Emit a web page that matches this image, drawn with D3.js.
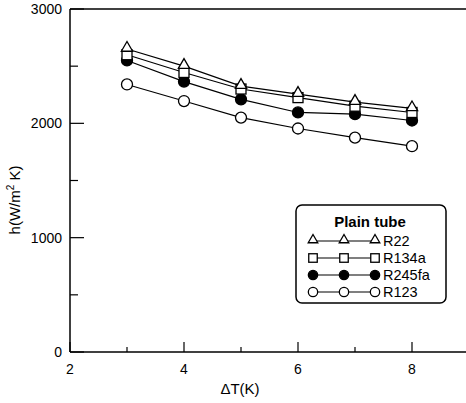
<!DOCTYPE html>
<html>
<head>
<meta charset="utf-8">
<script src="https://cdn.jsdelivr.net/npm/d3@7"></script>
<style>
  body { margin: 0; background: #fff; }
  svg { font-family: "Liberation Sans", Arial, sans-serif; }
</style>
</head>
<body>
<svg id="chart" width="466" height="403"></svg>
<script>
// data
var deltaT = [3, 4, 5, 6, 7, 8];
var r22    = [2650, 2500, 2325, 2255, 2185, 2130];
var r134a  = [2600, 2445, 2300, 2225, 2150, 2095];
var r245fa = [2550, 2365, 2210, 2095, 2080, 2025];
var r123   = [2340, 2195, 2050, 1955, 1875, 1800];
var seriesNames = ["R22", "R134a", "R245fa", "R123"];
var seriesMarks = ["triangle", "square", "filled", "open"];
var xTicks = [2, 4, 6, 8];
var yTicks = [0, 1000, 2000, 3000];

var series = [r22, r134a, r245fa, r123];

var svg = d3.select("#chart");
var x = d3.scaleLinear().domain([2, 9]).range([70, 469]);
var y = d3.scaleLinear().domain([0, 3000]).range([352, 9]);

// axes lines
svg.append("line").attr("x1", 70).attr("x2", 469).attr("y1", y(0)).attr("y2", y(0))
  .attr("stroke", "#000").attr("stroke-width", 1.5);
svg.append("line").attr("x1", 70).attr("x2", 469).attr("y1", y(3000)).attr("y2", y(3000))
  .attr("stroke", "#000").attr("stroke-width", 1.5);
svg.append("line").attr("x1", 70).attr("x2", 70).attr("y1", y(0)).attr("y2", y(3000))
  .attr("stroke", "#000").attr("stroke-width", 1.5);

// y ticks (inside)
d3.range(0, 3001, 500).forEach(function(v) {
  var major = v % 1000 == 0;
  svg.append("line").attr("x1", 70).attr("x2", 70 + (major ? 14 : 8))
    .attr("y1", y(v)).attr("y2", y(v)).attr("stroke", "#000").attr("stroke-width", 1.2);
});
svg.selectAll(".ylab").data(yTicks).enter().append("text")
  .attr("x", 62).attr("y", function(d) { return y(d) + 5; })
  .attr("text-anchor", "end").attr("font-size", 14).text(function(d) { return d; });

// x ticks (inside)
d3.range(2, 9, 1).forEach(function(v) {
  var major = v % 2 == 0;
  svg.append("line").attr("x1", x(v)).attr("x2", x(v))
    .attr("y1", y(0)).attr("y2", y(0) - (major ? 10 : 5)).attr("stroke", "#000").attr("stroke-width", 1.2);
});
svg.selectAll(".xlab").data(xTicks).enter().append("text")
  .attr("x", function(d) { return x(d); }).attr("y", 374)
  .attr("text-anchor", "middle").attr("font-size", 14).text(function(d) { return d; });

// axis titles
svg.append("text").attr("x", 240).attr("y", 394).attr("text-anchor", "middle")
  .attr("font-size", 15).text("\u0394T(K)");
svg.append("text").attr("transform", "translate(20,200) rotate(-90)")
  .attr("text-anchor", "middle").attr("font-size", 15)
  .html('h(W/m<tspan dy="-6" font-size="10">2</tspan><tspan dy="6"> K)</tspan>');

function drawMarker(g, kind, cx, cy, k) {
  k = k || 1;
  if (kind == "triangle") {
    g.append("path").attr("d", d3.symbol(d3.symbolTriangle, 55 * k * k)())
      .attr("transform", "translate(" + cx + "," + (cy - 1) + ")")
      .attr("fill", "#fff").attr("stroke", "#000").attr("stroke-width", 1.3);
  } else if (kind == "square") {
    g.append("rect").attr("x", cx - 5 * k).attr("y", cy - 5 * k).attr("width", 10 * k).attr("height", 10 * k)
      .attr("fill", "#fff").attr("stroke", "#000").attr("stroke-width", 1.3);
  } else {
    g.append("circle").attr("cx", cx).attr("cy", cy).attr("r", 5.5 * k)
      .attr("fill", kind == "filled" ? "#000" : "#fff").attr("stroke", "#000").attr("stroke-width", 1.3);
  }
}

var line = d3.line().x(function(d) { return x(d[0]); }).y(function(d) { return y(d[1]); });

// draw from bottom series up so upper markers sit on top
for (var s = series.length - 1; s >= 0; s--) {
  var pts = deltaT.map(function(t, i) { return [t, series[s][i]]; });
  var g = svg.append("g");
  g.append("path").attr("d", line(pts)).attr("fill", "none").attr("stroke", "#000").attr("stroke-width", 1.2);
  pts.forEach(function(p) { drawMarker(g, seriesMarks[s], x(p[0]), y(p[1])); });
}

// legend
var lg = svg.append("g");
lg.append("rect").attr("x", 296).attr("y", 205).attr("width", 150).attr("height", 98)
  .attr("rx", 6).attr("fill", "#fff").attr("stroke", "#000").attr("stroke-width", 1.5);
lg.append("text").attr("x", 370).attr("y", 227).attr("text-anchor", "middle")
  .attr("font-size", 15).attr("font-weight", "bold").text("Plain tube");
var legendX = [313, 344, 375];
seriesNames.forEach(function(name, i) {
  var ly = 241 + i * 17;
  lg.append("line").attr("x1", legendX[0]).attr("x2", legendX[2]).attr("y1", ly).attr("y2", ly)
    .attr("stroke", "#000").attr("stroke-width", 1.2);
  legendX.forEach(function(lx) { drawMarker(lg, seriesMarks[i], lx, ly, 0.85); });
  lg.append("text").attr("x", 383).attr("y", ly + 5).attr("font-size", 14.5).text(name);
});
</script>
</body>
</html>
